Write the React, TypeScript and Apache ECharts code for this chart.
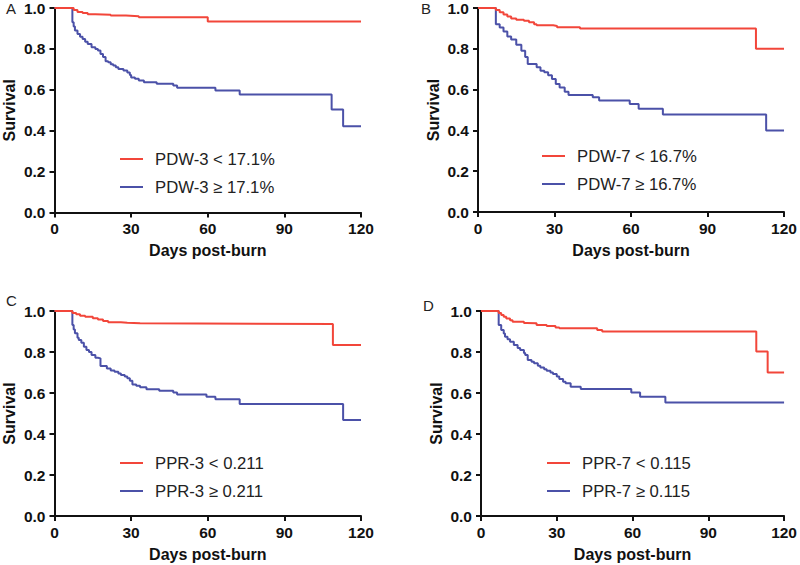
import React, { useEffect, useRef } from "react";
import * as echarts from "echarts";

const xTicks = [0, 30, 60, 90, 120];
const yTicks = [0, 0.2, 0.4, 0.6, 0.8, 1.0];
const panelLetters = ["A", "B", "C", "D"];
const xAxisTitle = "Days post-burn";
const yAxisTitle = "Survival";

const legendLow = ["PDW-3 < 17.1%", "PDW-7 < 16.7%", "PPR-3 < 0.211", "PPR-7 < 0.115"];
const legendHigh = ["PDW-3 \u2265 17.1%", "PDW-7 \u2265 16.7%", "PPR-3 \u2265 0.211", "PPR-7 \u2265 0.115"];

// Panel A
const aLowDays = [0, 7.5, 9, 11, 13, 16, 22, 28, 33, 60, 120];
const aLowSurv = [1, 0.99, 0.98, 0.975, 0.97, 0.967, 0.963, 0.96, 0.955, 0.934, 0.934];
const aHighDays = [0, 7, 7.5, 8, 9, 10, 11, 12, 13, 14.5, 16, 17, 18, 19, 20, 21, 22, 23, 24, 25, 27, 28.5, 29.5, 30, 31.5, 33, 35, 40, 46.5, 48, 63, 72.5, 108.5, 113, 120];
const aHighSurv = [1, 0.93, 0.91, 0.89, 0.873, 0.86, 0.849, 0.835, 0.824, 0.808, 0.8, 0.792, 0.775, 0.76, 0.74, 0.735, 0.725, 0.719, 0.71, 0.702, 0.694, 0.685, 0.672, 0.66, 0.654, 0.645, 0.637, 0.629, 0.621, 0.61, 0.597, 0.577, 0.504, 0.422, 0.422];

// Panel B
const bLowDays = [0, 7, 8.5, 10, 11.5, 13, 15, 18, 20, 22, 23, 29.5, 31, 40, 109, 120];
const bLowSurv = [1, 0.99, 0.979, 0.968, 0.958, 0.948, 0.943, 0.938, 0.93, 0.92, 0.915, 0.912, 0.906, 0.9, 0.8, 0.8];
const bHighDays = [0, 7, 8.5, 10, 11.5, 13, 15, 17, 18.5, 19.5, 23, 24.5, 26, 27.5, 29, 30.5, 32, 34, 35.5, 45, 47.5, 59.5, 63, 72.5, 113, 120];
const bHighSurv = [1, 0.92, 0.905, 0.885, 0.86, 0.845, 0.82, 0.79, 0.76, 0.725, 0.71, 0.693, 0.685, 0.67, 0.652, 0.628, 0.61, 0.59, 0.573, 0.563, 0.547, 0.53, 0.506, 0.478, 0.4, 0.4];

// Panel C
const cLowDays = [0, 7, 8.5, 10, 12, 15, 17, 19, 21, 26, 28.5, 33.5, 109, 120];
const cLowSurv = [1, 0.99, 0.984, 0.977, 0.972, 0.965, 0.958, 0.951, 0.945, 0.943, 0.94, 0.937, 0.834, 0.834];
const cHighDays = [0, 7, 7.5, 8, 9, 9.5, 10.5, 11.5, 12.5, 13.5, 14.5, 16, 17, 18, 20.5, 22, 23.5, 25, 26, 27.5, 28.5, 29.5, 30.5, 32, 33.5, 36, 41, 46.5, 48, 59.5, 63, 72.5, 113, 120];
const cHighSurv = [1, 0.932, 0.91, 0.891, 0.87, 0.859, 0.845, 0.826, 0.81, 0.8, 0.785, 0.772, 0.769, 0.732, 0.72, 0.71, 0.704, 0.695, 0.688, 0.68, 0.672, 0.66, 0.642, 0.635, 0.628, 0.618, 0.611, 0.603, 0.593, 0.582, 0.569, 0.546, 0.468, 0.468];

// Panel D
const dLowDays = [0, 7, 8, 9, 10, 11.5, 12.5, 17, 18, 22, 26, 29.5, 31, 46, 48, 109, 113.5, 120];
const dLowSurv = [1, 0.99, 0.98, 0.972, 0.964, 0.955, 0.948, 0.942, 0.94, 0.932, 0.927, 0.92, 0.916, 0.907, 0.9, 0.802, 0.7, 0.7];
const dHighDays = [0, 7, 8, 9, 9.5, 10.5, 11.5, 13, 14.5, 15.5, 17, 17.5, 18.5, 20, 21, 22.5, 23.5, 25, 26, 27.5, 28.5, 30, 31, 32.5, 33.5, 35.5, 39.5, 59.5, 63, 73, 120];
const dHighSurv = [1, 0.932, 0.907, 0.89, 0.875, 0.862, 0.85, 0.834, 0.82, 0.81, 0.795, 0.785, 0.761, 0.752, 0.745, 0.733, 0.725, 0.716, 0.709, 0.7, 0.693, 0.68, 0.668, 0.655, 0.647, 0.631, 0.62, 0.602, 0.582, 0.554, 0.554];

const lowDays = [aLowDays, bLowDays, cLowDays, dLowDays];
const lowSurv = [aLowSurv, bLowSurv, cLowSurv, dLowSurv];
const highDays = [aHighDays, bHighDays, cHighDays, dHighDays];
const highSurv = [aHighSurv, bHighSurv, cHighSurv, dHighSurv];

const RED = "#f2463a";
const BLUE = "#4b51a8";
const FONT = "'Liberation Sans', Arial, Helvetica, sans-serif";

// layout
const grids = [
  { left: 54.5, top: 7.5, width: 306.5, height: 205 },
  { left: 478, top: 7.5, width: 306, height: 204.5 },
  { left: 54.5, top: 311, width: 306.5, height: 205 },
  { left: 481, top: 311, width: 305.5, height: 205 },
];
const letterPos = [
  { left: 6, top: 1 },
  { left: 421, top: 1 },
  { left: 6, top: 293 },
  { left: 423, top: 298 },
];
const legendPos = [
  { left: 120, top: 150 },
  { left: 542, top: 147 },
  { left: 120, top: 454 },
  { left: 547, top: 454 },
];

function pairs(xs: number[], ys: number[]) {
  return xs.map((x, i) => [x, ys[i]]);
}

export default function App() {
  const ref = useRef<HTMLDivElement>(null);
  useEffect(() => {
    document.body.style.margin = "0";
    if (!ref.current) return;
    const chart = echarts.init(ref.current, undefined, { renderer: "svg" });
    const axisLine = { show: true, lineStyle: { color: "#111", width: 2 } };
    const axisTick = { show: true, length: 5, lineStyle: { color: "#111", width: 2 } };
    const xAxis = grids.map((_, i) => ({
      type: "value",
      gridIndex: i,
      min: xTicks[0],
      max: xTicks[xTicks.length - 1],
      interval: xTicks[1] - xTicks[0],
      axisLine,
      axisTick,
      splitLine: { show: false },
      axisLabel: { fontSize: 15.5, fontWeight: "bold", color: "#111", fontFamily: FONT, margin: 8 },
      name: xAxisTitle,
      nameLocation: "middle",
      nameGap: 30,
      nameTextStyle: { fontSize: 16, fontWeight: "bold", color: "#111", fontFamily: FONT },
    }));
    const yAxis = grids.map((_, i) => ({
      type: "value",
      gridIndex: i,
      min: yTicks[0],
      max: yTicks[yTicks.length - 1],
      interval: yTicks[1] - yTicks[0],
      axisLine,
      axisTick,
      splitLine: { show: false },
      axisLabel: {
        fontSize: 15.5,
        fontWeight: "bold",
        color: "#111",
        fontFamily: FONT,
        margin: 9,
        formatter: (v: number) => v.toFixed(1),
      },
      name: yAxisTitle,
      nameLocation: "middle",
      nameGap: 37,
      nameTextStyle: { fontSize: 16, fontWeight: "bold", color: "#111", fontFamily: FONT },
    }));
    const series: any[] = [];
    grids.forEach((_, i) => {
      series.push({
        type: "line",
        name: legendLow[i],
        xAxisIndex: i,
        yAxisIndex: i,
        step: "end",
        showSymbol: false,
        symbol: "none",
        color: RED,
        lineStyle: { color: RED, width: 2 },
        data: pairs(lowDays[i], lowSurv[i]),
        z: 3,
      });
      series.push({
        type: "line",
        name: legendHigh[i],
        xAxisIndex: i,
        yAxisIndex: i,
        step: "end",
        showSymbol: false,
        symbol: "none",
        color: BLUE,
        lineStyle: { color: BLUE, width: 2 },
        data: pairs(highDays[i], highSurv[i]),
        z: 2,
      });
    });
    const legend = grids.map((_, i) => ({
      data: [legendLow[i], legendHigh[i]],
      orient: "vertical",
      left: legendPos[i].left,
      top: legendPos[i].top,
      padding: 0,
      itemGap: 10,
      itemWidth: 23,
      itemHeight: 2,
      icon: "rect",
      selectedMode: false,
      textStyle: { fontSize: 16.7, color: "#222", fontFamily: FONT, lineHeight: 18, padding: [0, 0, 0, 7] },
    }));
    const title = panelLetters.map((t, i) => ({
      text: t,
      left: letterPos[i].left,
      top: letterPos[i].top,
      padding: 0,
      textStyle: { fontSize: 15, fontWeight: "normal", color: "#222", fontFamily: FONT },
    }));
    chart.setOption({
      animation: false,
      backgroundColor: "#ffffff",
      title,
      grid: grids.map((g) => ({ ...g, containLabel: false })),
      xAxis,
      yAxis,
      legend,
      series,
    });
    return () => chart.dispose();
  }, []);
  return <div ref={ref} style={{ width: 800, height: 565 }} />;
}
